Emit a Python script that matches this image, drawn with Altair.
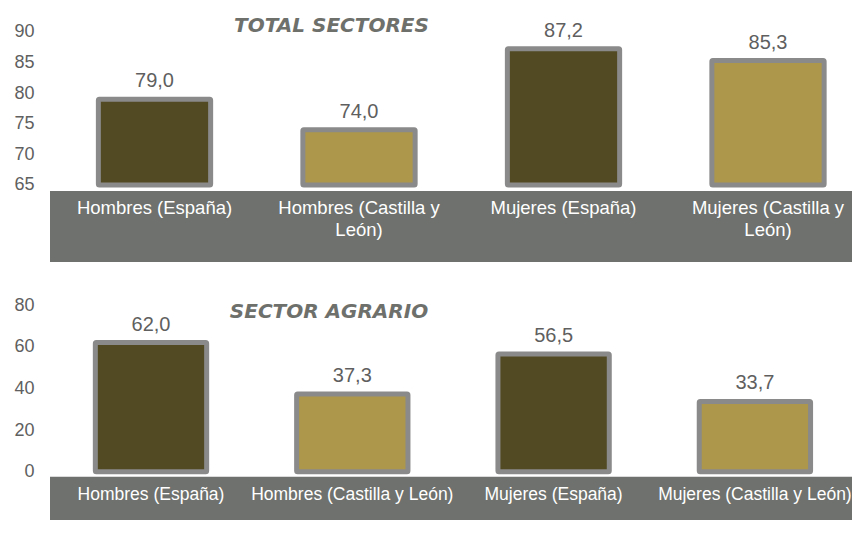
import altair as alt
import pandas as pd

categories = ["Hombres (España)", "Hombres (Castilla y León)", "Mujeres (España)", "Mujeres (Castilla y León)"]
labels_wrapped = ["Hombres (España)", "Hombres (Castilla y\nLeón)", "Mujeres (España)", "Mujeres (Castilla y\nLeón)"]
regions = ["España", "Castilla y León", "España", "Castilla y León"]
total_sectores = [79.0, 74.0, 87.2, 85.3]
sector_agrario = [62.0, 37.3, 56.5, 33.7]
ticks_total = [65, 70, 75, 80, 85, 90]
ticks_agrario = [0, 20, 40, 60, 80]

DARK = "#524A23"
GOLD = "#AD974A"
STROKE = "#8A8A8A"
BAND = "#6E716D"
FONT = "Liberation Sans"
W = 802


def panel(values, base, domain, ticks, xscale, height, title, title_xy, labels, label_y, label_size, band_y):
    df = pd.DataFrame({
        "cat": categories,
        "label": labels,
        "region": regions,
        "val": values,
        "base": [base] * len(values),
        "txt": [f"{v:.1f}".replace(".", ",") for v in values],
    })
    x = alt.X("cat:N", sort=categories, scale=xscale, axis=None)
    y = alt.Y(
        "val:Q",
        scale=alt.Scale(domain=domain, nice=False, zero=False),
        axis=alt.Axis(values=ticks, title=None, grid=False, domain=False, ticks=False,
                      labelPadding=16, labelFontSize=18, labelColor="#606060",
                      labelFont=FONT, minExtent=42, maxExtent=42),
    )
    band = alt.Chart(pd.DataFrame({"k": [0]})).mark_rect(color=BAND).encode(
        x=alt.value(0), x2=alt.value(W), y=alt.value(band_y[0]), y2=alt.value(band_y[1])
    )
    bars = alt.Chart(df).mark_bar(stroke=STROKE, strokeWidth=5, cornerRadius=1).encode(
        x=x, y=y, y2="base:Q",
        color=alt.Color("region:N", scale=alt.Scale(domain=["España", "Castilla y León"], range=[DARK, GOLD]), legend=None),
    )
    vals = alt.Chart(df).mark_text(dy=-18, baseline="middle", fontSize=20, color="#5F5F5F", font=FONT).encode(
        x=x, y=y, text="txt:N"
    )
    cats = alt.Chart(df).mark_text(lineBreak="\n", baseline="alphabetic", align="center", color="white",
                                   fontSize=label_size, font=FONT, lineHeight=22).encode(
        x=x, y=alt.value(label_y), text="label:N"
    )
    ttl = alt.Chart(pd.DataFrame({"t": [title]})).mark_text(
        font="DejaVu Sans", fontStyle="italic", fontWeight="bold", fontSize=20, color="#6E706C", baseline="middle"
    ).encode(x=alt.value(title_xy[0]), y=alt.value(title_xy[1]), text="t:N")
    return alt.layer(band, bars, vals, cats, ttl).properties(width=W, height=height)


top = panel(total_sectores, 65, [52.44, 93.865], ticks_total,
            alt.Scale(paddingInner=0.451, paddingOuter=0.1864, align=0.6345),
            254, "TOTAL SECTORES", (281.5, 18), labels_wrapped, 206, 18.5, (183, 254))
bottom = panel(sector_agrario, 0, [-23.18, 93.92], ticks_agrario,
               alt.Scale(paddingInner=0.447, paddingOuter=0.2155, align=0.5225),
               244, "SECTOR AGRARIO", (279, 35.7), categories, 224, 17.5, (200.7, 244))

chart = alt.vconcat(top, bottom, spacing=14).resolve_scale(x="independent", y="independent").properties(
    padding={"left": 0, "top": 0, "right": 0, "bottom": 0}
).configure_view(stroke=None)

chart.save("out.html", embed_options={"renderer": "svg", "actions": False})
